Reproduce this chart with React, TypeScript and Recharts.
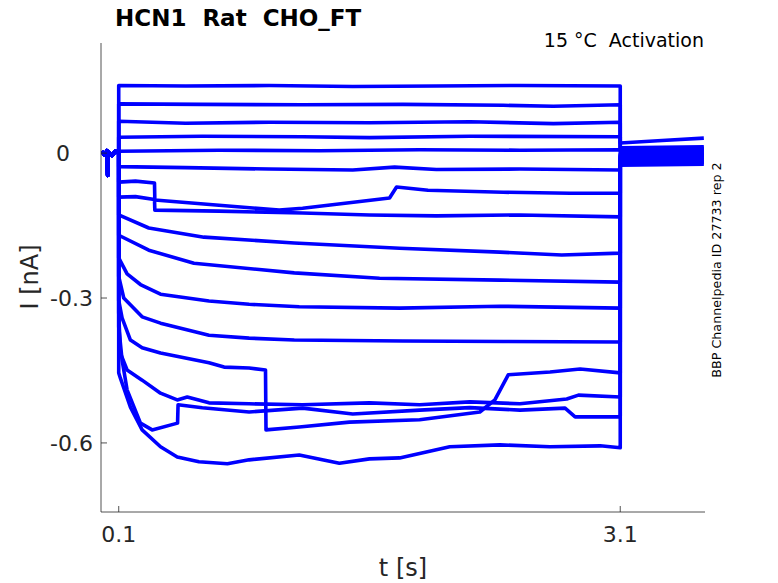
import { LineChart, Line, XAxis, YAxis } from 'recharts'

// holding level before the step (shared by every sweep)
const PRE: [number, number][] = [
  [0, 0.004], [0.015, -0.004], [0.03, 0.005], [0.034, -0.046], [0.038, 0.002],
  [0.06, -0.005], [0.08, 0.004], [0.1, 0],
]

// current during the 0.1 .. 3.1 s step, one list per sweep (t [s], I [nA])
const sweep1: [number, number][] = [[0.1, 0.140], [0.5, 0.139], [1.0, 0.140], [1.5, 0.138], [2.0, 0.139], [2.5, 0.140], [3.1, 0.139]]
const sweep2: [number, number][] = [[0.1, 0.102], [0.6, 0.101], [1.2, 0.100], [1.8, 0.101], [2.4, 0.099], [2.7, 0.097], [3.1, 0.100]]
const sweep3: [number, number][] = [[0.1, 0.066], [0.5, 0.062], [1.0, 0.064], [1.6, 0.063], [2.2, 0.065], [2.7, 0.061], [3.1, 0.064]]
const sweep4: [number, number][] = [[0.1, 0.033], [0.6, 0.035], [1.2, 0.034], [1.6, 0.032], [2.2, 0.035], [3.1, 0.034]]
const sweep5: [number, number][] = [[0.1, 0.004], [0.7, 0.006], [1.3, 0.005], [1.9, 0.007], [2.5, 0.006], [3.1, 0.007]]
const sweep6: [number, number][] = [[0.1, -0.028], [0.5, -0.030], [1.0, -0.033], [1.5, -0.035], [1.75, -0.029], [2.0, -0.034], [2.5, -0.033], [3.1, -0.035]]
const sweep7: [number, number][] = [
  [0.1, -0.060], [0.2, -0.058], [0.314, -0.062], [0.316, -0.097], [0.7, -0.108], [1.06, -0.118],
  [1.2, -0.114], [1.72, -0.093], [1.762, -0.070], [1.95, -0.077], [2.4, -0.081], [2.8, -0.083], [3.1, -0.083],
]
const sweep8: [number, number][] = [
  [0.1, -0.091], [0.2, -0.090], [0.314, -0.096], [0.316, -0.118], [0.7, -0.120], [1.2, -0.124],
  [1.6, -0.128], [2.0, -0.130], [2.5, -0.128], [3.1, -0.132],
]
const sweep9: [number, number][] = [[0.1, -0.128], [0.28, -0.155], [0.61, -0.174], [1.15, -0.186], [1.78, -0.197], [2.38, -0.205], [2.75, -0.211], [3.1, -0.207]]
const sweep10: [number, number][] = [[0.1, -0.170], [0.28, -0.201], [0.55, -0.228], [1.15, -0.248], [1.66, -0.259], [2.38, -0.263], [3.1, -0.267]]
const sweep11: [number, number][] = [
  [0.1, -0.217], [0.15, -0.250], [0.23, -0.272], [0.35, -0.292], [0.64, -0.306], [0.88, -0.313],
  [1.18, -0.318], [1.78, -0.321], [2.38, -0.317], [3.1, -0.321],
]
const sweep12: [number, number][] = [
  [0.1, -0.255], [0.13, -0.300], [0.24, -0.339], [0.35, -0.352], [0.64, -0.377], [0.88, -0.383],
  [1.15, -0.387], [1.8, -0.389], [2.4, -0.390], [3.1, -0.391],
]
const sweep13: [number, number][] = [
  [0.1, -0.305], [0.12, -0.341], [0.17, -0.387], [0.24, -0.403], [0.35, -0.414], [0.64, -0.434],
  [0.73, -0.443], [0.88, -0.445], [0.978, -0.449], [0.981, -0.573], [1.18, -0.567], [1.48, -0.557],
  [1.9, -0.552], [2.26, -0.536], [2.35, -0.511], [2.43, -0.459], [2.68, -0.453], [2.86, -0.447], [3.1, -0.455],
]
const sweep14: [number, number][] = [
  [0.1, -0.330], [0.11, -0.414], [0.15, -0.449], [0.24, -0.470], [0.35, -0.497], [0.45, -0.511],
  [0.51, -0.505], [0.64, -0.517], [0.88, -0.519], [1.2, -0.521], [1.6, -0.517], [1.9, -0.521],
  [2.2, -0.515], [2.5, -0.519], [2.78, -0.509], [2.85, -0.501], [3.1, -0.505],
]
const sweep15: [number, number][] = [
  [0.1, -0.360], [0.12, -0.428], [0.15, -0.490], [0.23, -0.559], [0.30, -0.573], [0.452, -0.559],
  [0.455, -0.521], [0.6, -0.527], [0.88, -0.536], [1.2, -0.528], [1.5, -0.540], [1.9, -0.532],
  [2.2, -0.527], [2.5, -0.532], [2.77, -0.528], [2.83, -0.546], [3.1, -0.546],
]
const sweep16: [number, number][] = [
  [0.1, -0.455], [0.11, -0.466], [0.17, -0.526], [0.24, -0.573], [0.35, -0.608], [0.45, -0.629],
  [0.58, -0.639], [0.75, -0.643], [0.88, -0.635], [1.18, -0.625], [1.42, -0.642], [1.6, -0.633],
  [1.78, -0.631], [2.08, -0.608], [2.38, -0.604], [2.68, -0.608], [2.98, -0.606], [3.1, -0.610],
]

// tail after the step: level at 3.1, 3.35 and 3.6 s for each sweep
const POST_T = [3.1, 3.35, 3.6]
const post1 = [0.021, 0.026, 0.031]
const post2 = [0.011, 0.012, 0.013]
const post3 = [0.008, 0.009, 0.010]
const post4 = [0.006, 0.007, 0.008]
const post5 = [0.003, 0.004, 0.005]
const post6 = [0.000, 0.001, 0.002]
const post7 = [-0.002, -0.001, 0.000]
const post8 = [-0.005, -0.004, -0.003]
const post9 = [-0.007, -0.006, -0.005]
const post10 = [-0.010, -0.009, -0.008]
const post11 = [-0.012, -0.011, -0.010]
const post12 = [-0.015, -0.014, -0.013]
const post13 = [-0.017, -0.016, -0.015]
const post14 = [-0.020, -0.019, -0.018]
const post15 = [-0.022, -0.021, -0.020]
const post16 = [-0.025, -0.024, -0.023]

const SWEEPS = [sweep1, sweep2, sweep3, sweep4, sweep5, sweep6, sweep7, sweep8, sweep9, sweep10, sweep11, sweep12, sweep13, sweep14, sweep15, sweep16]
const POSTS = [post1, post2, post3, post4, post5, post6, post7, post8, post9, post10, post11, post12, post13, post14, post15, post16]

const X_TICKS = [0.1, 3.1]
const Y_TICKS = [-0.6, -0.3, 0]
const Y_LABELS: Record<string, string> = { '-0.6': '-0.6', '-0.3': '-0.3', '0': '0' }

const BLUE = '#0000ff'
const INK = '#262626'
const FONT = 'DejaVu Sans, sans-serif'
const NBSP = '\u00a0'

const traces = SWEEPS.map((sw, i) => [
  ...PRE.map(([t, v]) => ({ t, v })),
  ...sw.map(([t, v]) => ({ t, v })),
  ...POST_T.map((t, j) => ({ t, v: POSTS[i][j] })),
])

const XTick = (p: any) => {
  const { x, y, payload } = p
  return (
    <g>
      <line x1={x} x2={x} y1={y} y2={y - 6} stroke={INK} strokeWidth={0.8} />
      <text x={x} y={y + 30} textAnchor="middle" fill={INK} fontSize={22} fontFamily={FONT}>{String(payload.value)}</text>
    </g>
  )
}

const YTick = (p: any) => {
  const { x, y, payload } = p
  const label = Y_LABELS[String(payload.value)]
  const isZero = payload.value === 0
  return (
    <g>
      <line x1={x} x2={x + 6} y1={y} y2={y} stroke={INK} strokeWidth={0.8} />
      <text x={isZero ? x - 38 : x - 8} y={y + 8} textAnchor={isZero ? 'middle' : 'end'} fill={INK} fontSize={22} fontFamily={FONT}>{label}</text>
    </g>
  )
}

export default function App() {
  return (
    <div style={{ position: 'absolute', left: 0, top: 0, width: 778, height: 583, background: '#fff' }}>
      <LineChart width={778} height={583} margin={{ top: 43, right: 73, bottom: 31, left: 41 }}>
        <XAxis dataKey="t" type="number" domain={[-0.006, 3.607]} ticks={X_TICKS} allowDataOverflow
          height={40} tickSize={0} tickMargin={0} tickLine={false} tick={<XTick />}
          axisLine={{ stroke: INK, strokeWidth: 0.8 }} />
        <YAxis type="number" domain={[-0.743, 0.228]} ticks={Y_TICKS} allowDataOverflow
          width={60} tickSize={0} tickMargin={0} tickLine={false} tick={<YTick />}
          axisLine={{ stroke: INK, strokeWidth: 0.8 }} />
        {traces.map((d, i) => (
          <Line key={i} data={d} dataKey="v" type="linear" stroke={BLUE} strokeWidth={3.6}
            strokeLinejoin="round" dot={false} activeDot={false} isAnimationActive={false} />
        ))}
        <text x={115} y={26} fontSize={23} fontWeight="bold" fontFamily={FONT} fill="#000">{`HCN1 ${NBSP}Rat ${NBSP}CHO_FT`}</text>
        <text x={704} y={47} fontSize={19} textAnchor="end" fontFamily={FONT} fill="#000">{`15 °C ${NBSP}Activation`}</text>
        <text x={403} y={576} fontSize={24} textAnchor="middle" fontFamily={FONT} fill={INK}>t [s]</text>
        <text transform="translate(38 277) rotate(-90)" fontSize={24} textAnchor="middle" fontFamily={FONT} fill={INK}>I [nA]</text>
        <text transform="translate(721 270) rotate(-90)" fontSize={12.7} textAnchor="middle" fontFamily={FONT} fill="#000">BBP Channelpedia ID 27733 rep 2</text>
      </LineChart>
    </div>
  )
}
